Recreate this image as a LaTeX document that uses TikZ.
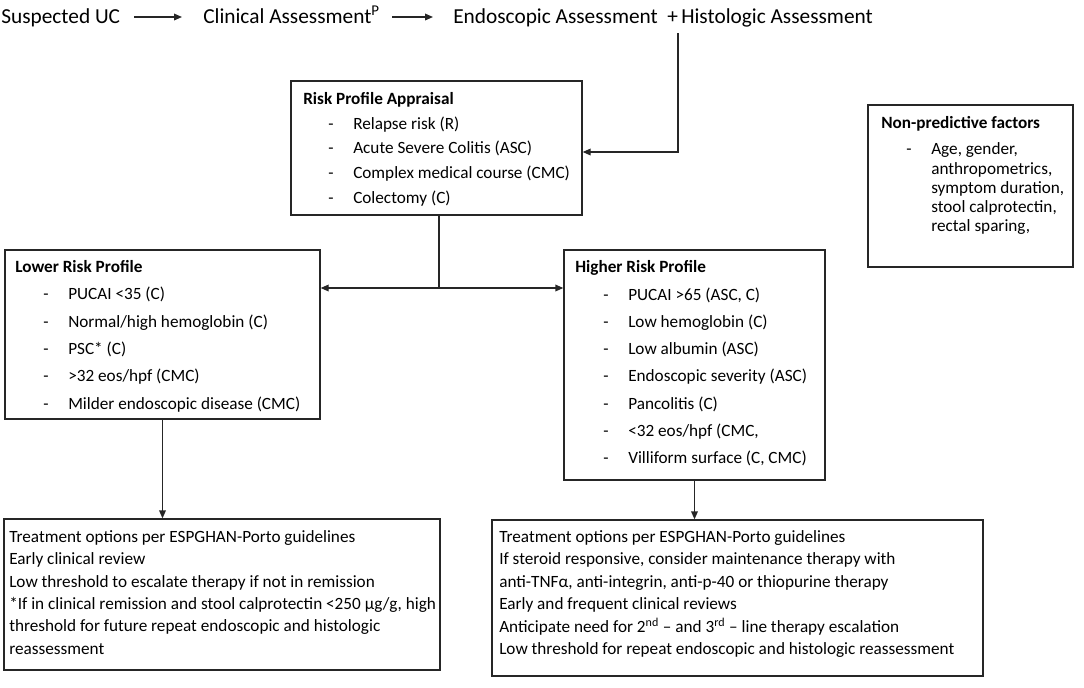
\documentclass[tikz,border=0pt]{standalone}
\usepackage{fontspec}
\setmainfont{Carlito}
\usetikzlibrary{arrows.meta,calc,fit}
\newlength\px \setlength\px{0.75pt}
\newcommand\itm[1]{\hspace*{25\px}\makebox[25\px][l]{-}#1}
\newcommand\cont[1]{\hspace*{50\px}#1}
\begin{document}
\begin{tikzpicture}[x=0.75pt,y=-0.75pt,
  box/.style={draw=black!85, line width=1pt, inner sep=0pt},
  body/.style={anchor=north west, inner sep=0pt, align=left, font=\fontsize{12.9}{#1}\selectfont},
  toptext/.style={font=\fontsize{16}{19}\selectfont, inner sep=0pt, anchor=west, text height=10.3pt, text depth=0pt},
  arr/.style={line width=1pt, draw=black!85, -{Triangle[length=6pt,width=5pt]}},
  ln/.style={line width=1pt, draw=black!85}]
\useasboundingbox (0,0) rectangle (1084,687);

% top row
\node[toptext] (suc) at (1,17) {Suspected UC};
\node[toptext] (clin) at (203,17) {Clinical Assessment\textsuperscript{P}};
\node[toptext] (endo) at (453,17) {Endoscopic Assessment};
\node[toptext] (plus) at (667,17) {+};
\node[toptext] (hist) at (681,17) {Histologic Assessment};
\draw[arr, shorten <=14\px, shorten >=21\px] (suc.east) -- (clin.west);
\draw[arr, shorten <=12\px, shorten >=20\px] (clin.east) -- (endo.west);

% boxes
\node[box, fit={(291,81) (582,215)}] (risk) {};
\node[box, fit={(868,105) (1073,267)}] (nonpred) {};
\node[box, fit={(5,250) (320,419)}] (lower) {};
\node[box, fit={(564,250) (825,480)}] (higher) {};
\node[box, fit={(4,519) (440,670)}] (botl) {};
\node[box, fit={(492,520) (983,676)}] (botr) {};

% box texts
\node[body=18.5pt] (risktxt) at (303,92) {\textbf{Risk Profile Appraisal}\\
\itm{Relapse risk (R)}\\
\itm{Acute Severe Colitis (ASC)}\\
\itm{Complex medical course (CMC)}\\
\itm{Colectomy (C)}};

\node[body=14.4pt] (nonpredtxt) at (881,116) {\textbf{Non-predictive factors}\\[5.5pt]
\itm{Age, gender,}\\
\cont{anthropometrics,}\\
\cont{symptom duration,}\\
\cont{stool calprotectin,}\\
\cont{rectal sparing,}};

\node[body=20.5pt] (lowertxt) at (15,260) {\textbf{Lower Risk Profile}\\
\hspace*{3\px}\itm{PUCAI <35 (C)}\\
\hspace*{3\px}\itm{Normal/high hemoglobin (C)}\\
\hspace*{3\px}\itm{PSC* (C)}\\
\hspace*{3\px}\itm{>32 eos/hpf (CMC)}\\
\hspace*{3\px}\itm{Milder endoscopic disease (CMC)}};

\node[body=20.3pt] (highertxt) at (575,260) {\textbf{Higher Risk Profile}\\[1pt]
\hspace*{3\px}\itm{PUCAI >65 (ASC, C)}\\
\hspace*{3\px}\itm{Low hemoglobin (C)}\\
\hspace*{3\px}\itm{Low albumin (ASC)}\\
\hspace*{3\px}\itm{Endoscopic severity (ASC)}\\
\hspace*{3\px}\itm{Pancolitis (C)}\\
\hspace*{3\px}\itm{<32 eos/hpf (CMC,}\\
\hspace*{3\px}\itm{Villiform surface (C, CMC)}};

\node[body=16.8pt] (botltxt) at (9,530) {Treatment options per ESPGHAN-Porto guidelines\\
Early clinical review\\
Low threshold to escalate therapy if not in remission\\
*If in clinical remission and stool calprotectin <250 µg/g, high\\
threshold for future repeat endoscopic and histologic\\
reassessment};

\node[body=16.85pt] (botrtxt) at (499,530) {Treatment options per ESPGHAN-Porto guidelines\\
If steroid responsive, consider maintenance therapy with\\
anti-TNFα, anti-integrin, anti-p-40 or thiopurine therapy\\
Early and frequent clinical reviews\\
Anticipate need for 2\textsuperscript{nd} -- and 3\textsuperscript{rd} -- line therapy escalation\\
Low threshold for repeat endoscopic and histologic reassessment};

% connectors
\coordinate (plusfoot) at (678,33);
\draw[arr] (plusfoot) |- ($(risk.east)+(0,4)$);
\coordinate (split) at (439,288);
\draw[ln] (risk.south -| split) -- (split);
\draw[arr] (split) -- (split -| lower.east);
\draw[arr] (split) -- (split -| higher.west);
\draw[arr] (lower.south) -- (lower.south |- botl.north);
\draw[arr] (higher.south) -- (higher.south |- botr.north);
\end{tikzpicture}
\end{document}
